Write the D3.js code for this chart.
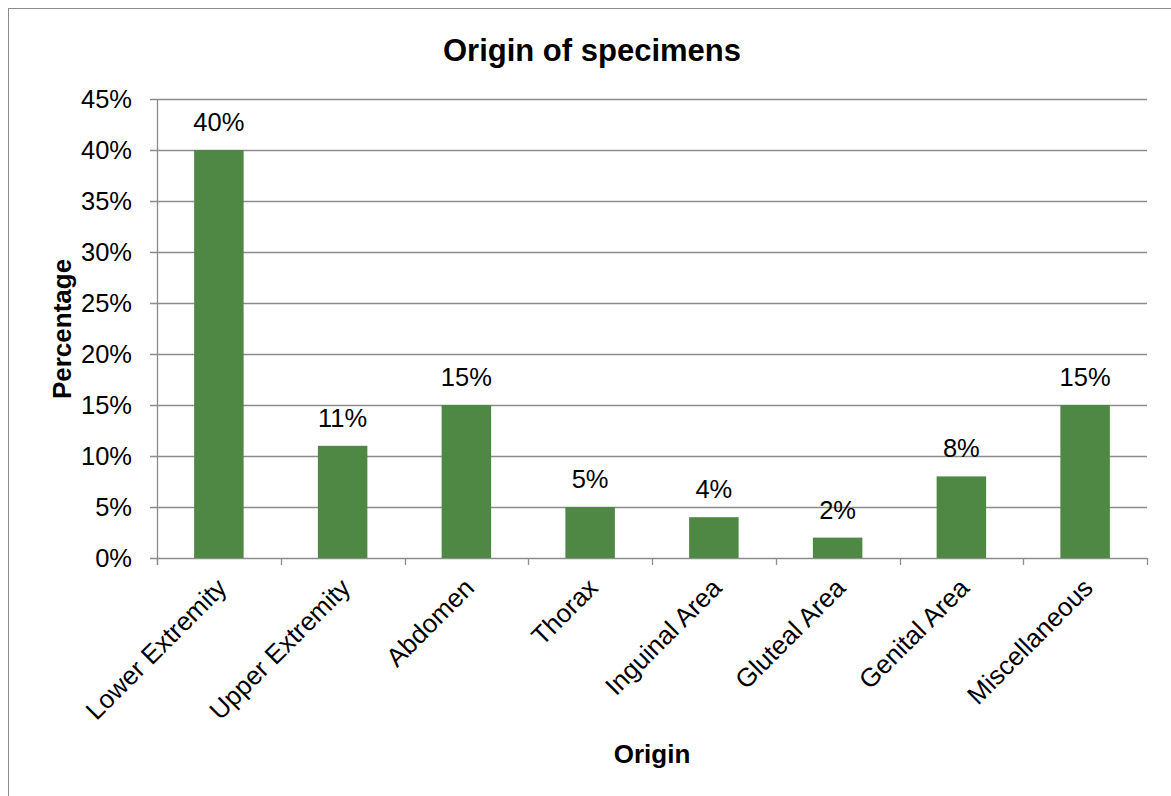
<!DOCTYPE html>
<html><head><meta charset="utf-8">
<script src="https://cdn.jsdelivr.net/npm/d3@7"></script>
<style>body{margin:0;background:#fff}svg{display:block}text{font-family:"Liberation Sans",Arial,sans-serif}</style>
</head><body>
<script>
const categories = ["Lower Extremity","Upper Extremity","Abdomen","Thorax","Inguinal Area","Gluteal Area","Genital Area","Miscellaneous"];
const values = [40, 11, 15, 5, 4, 2, 8, 15];
const yTicks = [0,5,10,15,20,25,30,35,40,45];
const title = "Origin of specimens";
const xTitle = "Origin";
const yTitle = "Percentage";

const W = 1171, H = 796;
const svg = d3.select("body").append("svg").attr("width", W).attr("height", H);
svg.append("rect").attr("x", 8.5).attr("y", 8.5).attr("width", 1180).attr("height", 800)
  .attr("fill", "#fff").attr("stroke", "#8c8c8c").attr("stroke-width", 1);

const L = 157, R = 1147, T = 99, B = 558;
const x = d3.scaleBand().domain(categories).range([L, R]).paddingInner(0.6).paddingOuter(0.3);
const xe = d3.scaleBand().domain(categories).range([L, R]);
const y = d3.scaleLinear().domain([0, 45]).range([B, T]);

// gridlines
svg.append("g").selectAll("line").data(yTicks).join("line")
  .attr("x1", L - 7).attr("x2", R).attr("y1", d => Math.round(y(d)) + 0.5).attr("y2", d => Math.round(y(d)) + 0.5)
  .attr("stroke", "#8c8c8c").attr("stroke-width", 1.3);
// y axis line
svg.append("line").attr("x1", L + 0.5).attr("x2", L + 0.5).attr("y1", T).attr("y2", B + 7)
  .attr("stroke", "#8c8c8c").attr("stroke-width", 1.3);
// x ticks
const xt = categories.map(c => xe(c)).concat([R]);
svg.append("g").selectAll("line").data(xt).join("line")
  .attr("x1", d => Math.round(d) + 0.5).attr("x2", d => Math.round(d) + 0.5).attr("y1", B).attr("y2", B + 7)
  .attr("stroke", "#8c8c8c").attr("stroke-width", 1.3);

// y tick labels
svg.append("g").selectAll("text").data(yTicks).join("text")
  .attr("x", L - 25).attr("y", d => y(d)).attr("dy", "0.35em").attr("text-anchor", "end")
  .attr("font-size", 25.5).attr("fill", "#000").text(d => d + "%");

// bars
svg.append("g").selectAll("rect").data(values).join("rect")
  .attr("x", (d, i) => x(categories[i])).attr("width", x.bandwidth())
  .attr("y", d => y(d)).attr("height", d => B - y(d)).attr("fill", "#4f8745");

// data labels
svg.append("g").selectAll("text").data(values).join("text")
  .attr("x", (d, i) => x(categories[i]) + x.bandwidth() / 2).attr("y", d => y(d) - 19)
  .attr("text-anchor", "middle").attr("font-size", 25.5).attr("fill", "#000").text(d => d + "%");

// x tick labels
svg.append("g").selectAll("text").data(categories).join("text")
  .attr("transform", c => `translate(${xe(c) + xe.bandwidth() / 2 + 3},${B + 25}) rotate(-45)`)
  .attr("text-anchor", "end").attr("dy", "0.35em").attr("font-size", 26).attr("fill", "#000").text(c => c);

// titles
svg.append("text").attr("x", 592).attr("y", 61).attr("text-anchor", "middle")
  .attr("font-size", 31).attr("font-weight", "bold").text(title);
svg.append("text").attr("x", 652).attr("y", 763).attr("text-anchor", "middle")
  .attr("font-size", 26).attr("font-weight", "bold").text(xTitle);
svg.append("text").attr("transform", `translate(71,329) rotate(-90)`).attr("text-anchor", "middle")
  .attr("font-size", 26).attr("font-weight", "bold").text(yTitle);
</script>
</body></html>
